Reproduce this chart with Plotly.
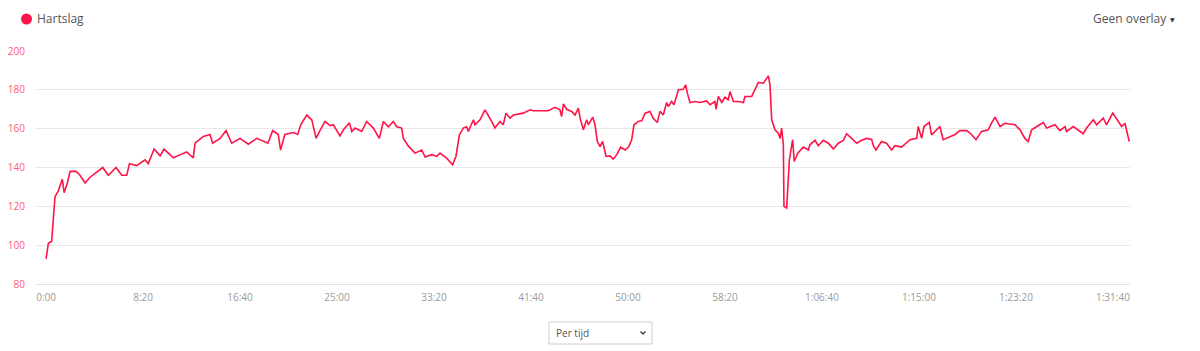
import plotly.graph_objects as go

# --- data (time in seconds, heart rate in bpm) ---
time_s = [0, 12, 29, 46, 63, 84, 93, 110, 124, 155, 175, 201, 227, 253, 292, 321, 361, 390, 416, 430,
          467, 510, 527, 557, 588, 608, 656, 690, 725, 759, 768, 811, 845, 859, 897, 928, 957, 1000,
          1043, 1086, 1144, 1168, 1197, 1209, 1231, 1275,
          1297, 1313, 1344, 1370, 1392, 1412, 1438, 1464, 1481, 1515, 1533, 1564, 1576, 1593, 1627,
          1653, 1687, 1718, 1739, 1765, 1790, 1808, 1833, 1842, 1868, 1902, 1937, 1954, 1988, 2014,
          2031, 2065, 2096, 2113, 2131, 2151, 2168, 2177, 2203, 2211, 2237, 2263, 2280, 2302, 2314,
          2340, 2357, 2371, 2392, 2409, 2460, 2495, 2512, 2589, 2624, 2649, 2658, 2667, 2684, 2710,
          2727, 2744, 2753, 2770, 2787, 2796, 2818, 2830, 2842, 2856,
          2869, 2887, 2907, 2924, 2942, 2962, 2985, 3003, 3019, 3031, 3053, 3071, 3088, 3113, 3130,
          3151, 3165, 3182, 3199, 3208, 3225, 3237, 3260, 3285, 3297, 3306, 3320, 3345, 3371, 3405,
          3423, 3448, 3454, 3466, 3483, 3500, 3517, 3526, 3543, 3569, 3595, 3603, 3638, 3655, 3672,
          3698, 3715, 3724, 3732, 3741, 3758, 3775, 3784, 3792, 3801, 3804, 3818, 3832, 3849, 3857,
          3875, 3904, 3930, 3938, 3964, 3981, 4007, 4033, 4059, 4084, 4110, 4127, 4153, 4179, 4204,
          4230, 4256, 4265, 4278, 4307, 4333, 4359, 4376, 4410, 4454, 4488, 4496, 4514, 4526, 4553,
          4565, 4582, 4608, 4625, 4660, 4686, 4711, 4746, 4771, 4794, 4823, 4857, 4874, 4892, 4918,
          4943, 4995, 5021, 5046, 5063, 5081, 5107, 5141, 5158, 5201, 5227, 5253, 5261, 5296, 5347,
          5364, 5399, 5416, 5450, 5467, 5499, 5528, 5545, 5562, 5579, 5584]

heart_rate = [93, 101, 102, 125, 128, 134, 127, 132, 138, 138, 136, 132, 135, 137, 140, 136, 140, 136, 136, 142,
              141, 144, 142, 149.5, 146, 149.5, 145, 146.5, 148, 145, 152.5, 156, 157, 152.5, 155, 159, 152.5, 155,
              152, 155, 152.5, 159, 157, 149, 157, 158,
              157, 162, 167, 164.5, 155, 159, 163.7, 161.6, 162, 156.3, 159.4, 163, 158.6, 160.3, 158.6,
              163.7, 160.3, 155, 163.7, 161, 163.7, 161, 160.3, 155, 151, 147.4, 149, 145.4, 146.6, 145.7,
              147.4, 144.8, 141.4, 145.7, 156.8, 160.3, 161, 158.6, 164.6, 162, 164.6, 169.7, 167, 162.8, 160.3,
              163.7, 162, 168, 165.4, 167, 168, 169.7, 169.2, 169.2, 171, 169.7, 166.3, 172.8, 170, 168.9,
              167, 170.6, 165.4, 159.4, 164.6, 162, 166, 162, 153.4, 150.8,
              153.4, 145.7, 146, 144.3, 146.6, 150.5, 149, 150.5, 154.3, 162, 163.7, 164, 168, 168.9, 165.4,
              163.2, 168.9, 167, 173.5, 171.4, 174, 172.3, 180, 180.3, 182.6, 178.3, 173.5, 174, 173.5, 174.3,
              172.3, 174, 170, 176.6, 173.5, 176.2, 174.9, 179.1, 174, 174, 173.5, 176.6, 176.6, 180.3, 183.8,
              183.4, 186, 187.2, 182.6, 164.6, 159.4, 157.7, 155, 160.3, 151.7, 120, 119.1, 144, 154.3, 143.1,
              147.4, 150.5, 149, 151.7, 154, 151.2, 154, 152.5, 149.5, 152.5, 154, 157.4, 155, 152.5, 154,
              155, 154.5, 151.2, 149, 153.4, 152.5, 149, 151.2, 150.5, 154.3, 155, 161.1, 155, 161.1, 163.2,
              156.8, 158.6, 161.1, 154.3, 156, 157, 159, 159, 157, 154.3, 158.6, 159.4, 162.8, 166, 161.1,
              162.8, 162, 159.4, 155, 153.4, 159.4, 161.1, 163.2, 160.3, 162, 159, 161.1, 158.6, 161.1, 157.4,
              160.3, 164.6, 162, 165.4, 162, 168, 163.7, 161.1, 162.8, 156, 153.4]

x_tick_values = [0, 500, 1000, 1500, 2000, 2500, 3000, 3500, 4000, 4500, 5000, 5500]
x_tick_labels = ["0:00", "8:20", "16:40", "25:00", "33:20", "41:40", "50:00", "58:20",
                 "1:06:40", "1:15:00", "1:23:20", "1:31:40"]
y_tick_values = [80, 100, 120, 140, 160, 180, 200]

LINE = "#ff1447"
FONT = "Open Sans"

# plot area in pixels
L, R, T, B = 35, 1130, 51, 284
W, H = 1200, 351


def px(xp):
    return (xp - L) / (R - L)


def py(yp):
    return (B - yp) / (B - T)


fig = go.Figure()
fig.add_trace(go.Scatter(x=time_s, y=heart_rate, mode="lines",
                         line=dict(color=LINE, width=1.6), hoverinfo="skip",
                         showlegend=False))

fig.update_layout(
    width=W, height=H,
    margin=dict(l=L, r=W - R, t=T, b=H - B, autoexpand=False),
    paper_bgcolor="white", plot_bgcolor="white",
    font=dict(family=FONT),
    xaxis=dict(range=[-57, 5588], tickvals=x_tick_values, ticktext=x_tick_labels,
               automargin=False,
               showgrid=False, zeroline=False, showline=True, linecolor="#dde3ee",
               linewidth=1, ticks="", ticklabelstandoff=4,
               tickfont=dict(size=10, color="#9a9a9a", family=FONT)),
    yaxis=dict(range=[80, 200], tickvals=y_tick_values, showgrid=True,
               automargin=False,
               gridcolor="#e8e8e8", gridwidth=1, zeroline=False, showline=False,
               ticks="", ticklabelstandoff=9,
               tickfont=dict(size=10, color="#ff5a7a", family=FONT)),
)

shapes = [
    # legend dot
    dict(type="circle", xref="paper", yref="paper",
         x0=px(21), x1=px(32), y0=py(24.5), y1=py(13.5),
         fillcolor=LINE, line=dict(width=0)),
    # dropdown box
    dict(type="rect", xref="paper", yref="paper",
         x0=px(549), x1=px(652), y0=py(344), y1=py(322),
         fillcolor="white", line=dict(color="#cfcfcf", width=1)),
    # dropdown chevron
    dict(type="path", xref="paper", yref="paper",
         path=f"M {px(640.5)} {py(331.5)} L {px(643)} {py(334)} L {px(645.5)} {py(331.5)}",
         line=dict(color="#444", width=1.5)),
]

annotations = [
    dict(text="Hartslag", xref="paper", yref="paper", x=px(35), y=py(19),
         xanchor="left", yanchor="middle", showarrow=False,
         font=dict(size=12, color="#555555", family=FONT)),
    dict(text="Geen overlay", xref="paper", yref="paper", x=px(1169), y=py(19),
         xanchor="right", yanchor="middle", showarrow=False,
         font=dict(size=12, color="#555555", family=FONT)),
    dict(text="▼", xref="paper", yref="paper", x=px(1168), y=py(20),
         xanchor="left", yanchor="middle", showarrow=False,
         font=dict(size=6, color="#333333", family="DejaVu Sans")),
    dict(text="Per tijd", xref="paper", yref="paper", x=px(554), y=py(333),
         xanchor="left", yanchor="middle", showarrow=False,
         font=dict(size=10, color="#555555", family=FONT)),
]

fig.update_layout(shapes=shapes, annotations=annotations)
fig.write_html("out.html")
